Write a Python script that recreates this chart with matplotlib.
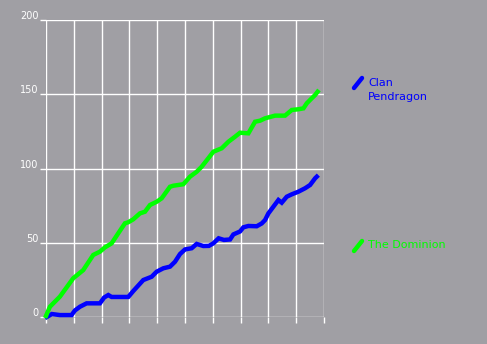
import matplotlib
matplotlib.use("Agg")
import matplotlib.pyplot as plt
from matplotlib.lines import Line2D
from matplotlib.transforms import ScaledTranslation

# series values (x runs 0..100 across the grid)
clan_x = [0.3, 2.1, 5.0, 9.2, 10.4, 12.2, 14.6, 19.4, 20.9, 22.4, 23.6, 29.6, 31.4, 33.2,
          35.0, 38.0, 39.8, 42.2, 44.6, 46.4, 48.2, 50.0, 52.4, 54.2, 56.6, 58.6, 60.2,
          62.1, 64.0, 66.2, 67.4, 69.8, 71.0, 72.8, 75.8, 77.6, 78.8, 80.0, 81.8, 83.6,
          84.8, 86.6, 88.4, 90.8, 93.2, 95.0, 96.8, 97.4]
clan_y = [0.0, 2.0, 1.3, 1.3, 4.4, 6.9, 9.2, 9.2, 13.1, 14.8, 13.5, 13.5, 17.5, 21.2,
          24.9, 27.1, 30.5, 32.8, 33.9, 37.2, 42.4, 45.5, 46.3, 49.2, 47.8, 47.9, 49.6,
          53.0, 51.9, 52.2, 55.6, 57.6, 60.4, 61.3, 61.1, 63.0, 65.3, 69.8, 74.3, 78.8,
          77.0, 81.0, 82.6, 84.4, 86.7, 88.9, 93.4, 94.5]

dom_x = [0.0, 1.4, 5.0, 9.8, 13.4, 17.0, 19.4, 21.2, 23.6, 26.0, 28.4, 29.6, 31.4, 33.8,
         35.6, 37.4, 39.8, 41.6, 44.6, 45.8, 49.4, 51.8, 54.2, 56.0, 58.4, 60.2, 63.2,
         65.6, 68.0, 69.8, 72.8, 75.2, 77.0, 78.8, 82.4, 86.0, 88.4, 90.8, 92.6, 93.8,
         95.6, 96.8, 97.7]
dom_y = [0.7, 6.9, 13.7, 26.1, 31.6, 41.8, 44.0, 46.9, 49.6, 56.4, 63.1, 63.8, 65.8, 69.8,
         70.9, 75.4, 77.6, 79.9, 87.7, 88.4, 89.4, 94.5, 97.8, 101.2, 106.9, 111.3, 113.6,
         118.0, 121.4, 124.1, 123.7, 131.5, 132.2, 133.8, 135.6, 135.6, 139.4, 139.9, 140.5,
         143.9, 147.3, 149.5, 151.7]

y_ticks = [0, 50, 100, 150, 200]
x_ticks = [0, 10, 20, 30, 40, 50, 60, 70, 80, 90, 100]

bg = '#a09fa4'
fig = plt.figure(figsize=(4.87, 3.44), dpi=100, facecolor=bg)
ax = fig.add_axes([46/487, 1-317/344, (324-46)/487, (317-20)/344])
ax.set_facecolor(bg)
ax.set_xlim(0, 100)
ax.set_ylim(0, 200)
for s in ax.spines.values():
    s.set_visible(False)

ax.set_xticks(x_ticks)
ax.set_xticklabels([])
ax.set_yticks(y_ticks)
ax.set_yticklabels([str(v) for v in y_ticks])
ax.tick_params(axis='both', color='white', length=4.3, width=1.0, direction='out')
ax.tick_params(axis='y', labelcolor='white', labelsize=7, pad=1)
ax.grid(True, color='white', linewidth=1.0)
ax.set_axisbelow(True)
off = ScaledTranslation(0, 5/100, fig.dpi_scale_trans)
for lab in ax.get_yticklabels():
    lab.set_transform(lab.get_transform() + off)

ax.plot(clan_x, clan_y, color='#0000ff', linewidth=3.2, solid_joinstyle='miter', clip_on=False)
ax.plot(dom_x, dom_y, color='#00ff00', linewidth=3.2, solid_joinstyle='miter', clip_on=False)

# legend drawn by hand to the right of the plot
def px(x, y):
    return x/487, 1-y/344

for (x0, y0, x1, y1), col in [((354, 88, 362, 78), '#0000ff'), ((354, 251, 362, 241), '#00ff00')]:
    a, b = px(x0, y0)
    c, d = px(x1, y1)
    fig.add_artist(Line2D([a, c], [b, d], color=col, linewidth=3.2, solid_capstyle='round',
                          transform=fig.transFigure))

fig.text(*px(368, 83.5), 'Clan', color='#0000ff', fontsize=8, va='center', ha='left')
fig.text(*px(368, 97.5), 'Pendragon', color='#0000ff', fontsize=8, va='center', ha='left')
fig.text(*px(368, 245), 'The Dominion', color='#00ff00', fontsize=8, va='center', ha='left')

fig.savefig('out.png', dpi=100, facecolor=bg)
